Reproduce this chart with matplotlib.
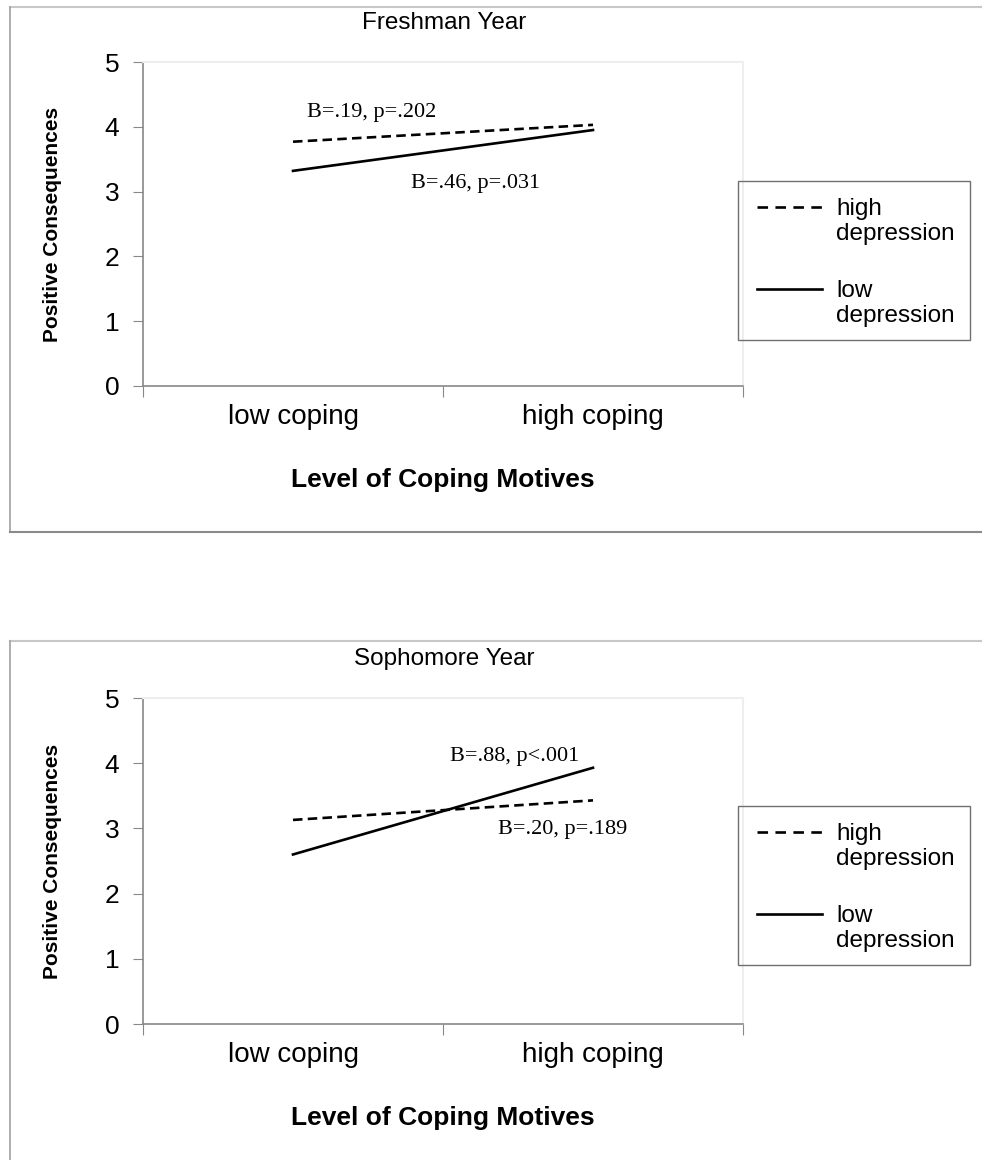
import matplotlib.pyplot as plt
from matplotlib.lines import Line2D
from matplotlib.patches import Rectangle

# data
categories = ['low coping', 'high coping']
years = ['Freshman Year', 'Sophomore Year']
high_dep = [[3.77, 4.03], [3.13, 3.43]]
low_dep = [[3.32, 3.95], [2.60, 3.93]]
notes = [
    [('B=.19, p=.202', 0.763, 4.22), ('B=.46, p=.031', 1.11, 3.12)],
    [('B=.88, p<.001', 1.24, 4.10), ('B=.20, p=.189', 1.40, 2.98)],
]
series_labels = ['high\ndepression', 'low\ndepression']
series_styles = [(0, (3.6, 2.0)), '-']
legend_styles = [(0, (4.0, 2.8)), '-']

W, H = 982, 1160
plt.rcParams['font.family'] = ['Liberation Sans', 'DejaVu Sans']
fig = plt.figure(figsize=(W / 100, H / 100), dpi=100)


def fx(px):
    return px / W


def fy(py):
    return 1 - py / H


# panel frames (pixel boxes: left, top, bottom)
frames = [(10, 7, 532), (10, 641, 1175)]
for left, top, bottom in frames:
    fig.add_artist(Line2D([fx(left), 1.01], [fy(top), fy(top)], color='#c8c8c8', lw=1.5))
    fig.add_artist(Line2D([fx(left), fx(left)], [fy(top), fy(bottom)], color='#a0a0a0', lw=1.2))
    fig.add_artist(Line2D([fx(left), 1.01], [fy(bottom), fy(bottom)], color='#8a8a8a', lw=1.5))

# axes boxes in pixels: top y of 5, y of 0
ax_boxes = [(62, 386), (698, 1024)]
legend_tops = [181, 806]

for i, (ytop, ybot) in enumerate(ax_boxes):
    ax = fig.add_axes([fx(143), fy(ybot), fx(743) - fx(143), fy(ytop) - fy(ybot)])
    xs = [0.5, 1.5]
    for vals, ls in zip([high_dep[i], low_dep[i]], series_styles):
        ax.plot(xs, vals, color='black', lw=1.9, ls=ls)
    ax.set_xlim(0, 2)
    ax.set_ylim(0, 5)
    ax.set_yticks(range(6))
    ax.set_xticks([0, 1, 2])
    ax.set_xticklabels([])
    ax.set_xticks(xs, minor=True)
    ax.set_xticklabels(categories, minor=True, fontsize=20)
    ax.tick_params(axis='x', which='minor', length=0, pad=13)
    ax.tick_params(axis='x', which='major', length=8, color='#888888', direction='out')
    ax.tick_params(axis='y', length=7, color='#888888', labelsize=19, pad=10)
    for s in ['left', 'bottom']:
        ax.spines[s].set_color('#888888')
        ax.spines[s].set_linewidth(1.2)
    for s in ['top', 'right']:
        ax.spines[s].set_color('#eeeeee')
        ax.spines[s].set_linewidth(1.5)
    ax.set_title(years[i], fontsize=17.5, pad=24, x=0.502)
    ax.set_ylabel('Positive Consequences', fontsize=15, fontweight='bold', labelpad=31)
    ax.set_xlabel('Level of Coping Motives', fontsize=19, fontweight='bold', labelpad=27)
    for text, x, y in notes[i]:
        ax.text(x, y, text, fontsize=16, family=['Liberation Serif', 'DejaVu Serif'],
                ha='center', va='center')

    # legend box, handle aligned with the first line of each label as in the source
    top = legend_tops[i]
    fig.add_artist(Rectangle((fx(738), fy(top + 159)), fx(970) - fx(738), 159 / H,
                             transform=fig.transFigure, fill=False,
                             edgecolor='#707070', lw=1.0))
    for k, (lab, ls) in enumerate(zip(series_labels, legend_styles)):
        yline = top + 26 + k * 82
        fig.add_artist(Line2D([fx(757), fx(822)], [fy(yline), fy(yline)],
                              color='black', lw=1.9, ls=ls))
        fig.text(fx(836), fy(yline - 9), lab, fontsize=17.5, ha='left', va='top',
                 linespacing=1.2, transform=fig.transFigure)

fig.savefig('out.png', dpi=100)
